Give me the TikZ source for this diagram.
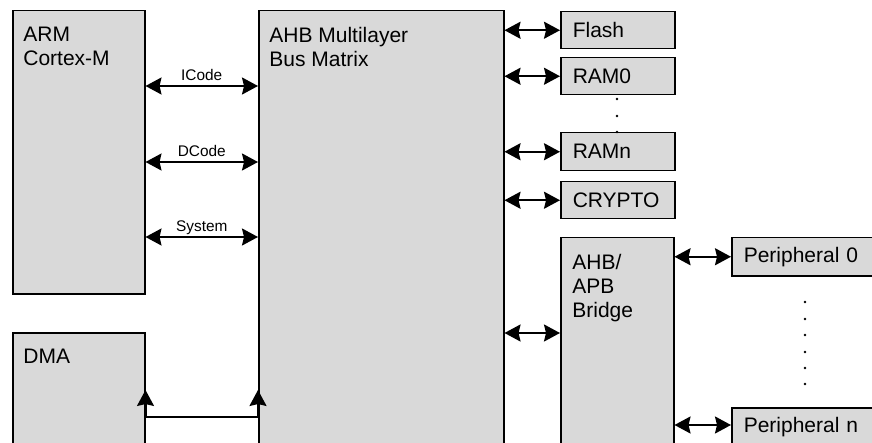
\documentclass[tikz,border=0pt]{standalone}
\usepackage{fontspec}
\setmainfont{Liberation Sans}
\usetikzlibrary{arrows.meta}
\definecolor{blockgray}{RGB}{217,217,217}

\begin{document}
\begin{tikzpicture}[x=0.5pt,y=-0.5pt,
  >={Stealth[length=8pt,width=8.5pt,inset=1pt]},
  block/.style={draw, fill=blockgray, line width=0.75pt, anchor=north west, inner sep=0pt},
  blocktext/.style={anchor=north west, align=left, inner xsep=5.5pt, inner ysep=8.5pt,
    font=\fontsize{10.5}{12}\selectfont},
  membox/.style={block, minimum height=18.5pt, text width=45pt, inner xsep=6pt,
    align=left, font=\fontsize{10.5}{12}\selectfont},
  periphbox/.style={membox, text width=68pt, minimum height=19pt},
  bus/.style={<->, line width=1pt},
  buslabel/.style={above, inner sep=2pt, text depth=0pt, font=\fontsize{7.7}{9}\selectfont}]
  \useasboundingbox (0,0) rectangle (872,443);
  \clip (0,0) rectangle (872,443);

  \node[block, minimum width=66pt, minimum height=141.5pt] (arm) at (12,10) {};
  \node[blocktext] (armtext) at (arm.north west) {ARM\\Cortex-M};
  \node[block, minimum width=122.5pt, minimum height=225pt] (busmatrix) at (258,10) {};
  \node[blocktext] (busmatrixtext) at (busmatrix.north west) {AHB Multilayer\\Bus Matrix};
  \node[block, minimum width=66pt, minimum height=60pt] (dma) at (12,332) {};
  \node[blocktext] (dmatext) at (dma.north west) {DMA};

  \node[membox] (flash) at (560,11) {Flash};
  \node[membox] (ramzero) at (560,57) {RAM0};
  \node[membox, minimum height=19pt] (ramn) at (560,132) {RAMn};
  \node[membox] (crypto) at (560,181) {CRYPTO};
  \node[block, minimum width=56.5pt, minimum height=110pt] (bridge) at (560,237) {};
  \node[blocktext, inner xsep=6pt] (bridgetext) at (bridge.north west) {AHB/\\APB\\Bridge};
  \node[periphbox] (periphzero) at (731,237) {Peripheral 0};
  \node[periphbox] (periphn) at (731,407) {Peripheral n};

  \coordinate (icode) at (0,86);
  \coordinate (dcode) at (0,162);
  \coordinate (system) at (0,237);
  \coordinate (apb) at (0,333);
  \coordinate (periphnbus) at (0,425);
  \coordinate (dmatip) at (0,390);
  \coordinate (dmabus) at (0,417);

  \draw[bus] (arm.east |- icode) -- node[buslabel] (icodelabel) {ICode} (busmatrix.west |- icode);
  \draw[bus] (arm.east |- dcode) -- node[buslabel] (dcodelabel) {DCode} (busmatrix.west |- dcode);
  \draw[bus] (arm.east |- system) -- node[buslabel] (systemlabel) {System} (busmatrix.west |- system);
  \draw[<->, line width=1pt] (dma.east |- dmatip) -- (dma.east |- dmabus)
    -- (busmatrix.west |- dmabus) -- (busmatrix.west |- dmatip);

  \foreach \mem in {flash,ramzero,ramn,crypto}
    \draw[bus] (busmatrix.east |- \mem.west) -- (\mem.west);
  \draw[bus] (busmatrix.east |- apb) -- (bridge.west |- apb);
  \draw[bus] (bridge.east |- periphzero.west) -- (periphzero.west);
  \draw[bus] (bridge.east |- periphnbus) -- (periphn.west |- periphnbus);

  \foreach \y in {99,116,132}
    \fill (617,\y) circle (0.7pt);
  \foreach \y in {302,319,335,352,368,384}
    \fill (805,\y) circle (0.7pt);
\end{tikzpicture}
\end{document}
